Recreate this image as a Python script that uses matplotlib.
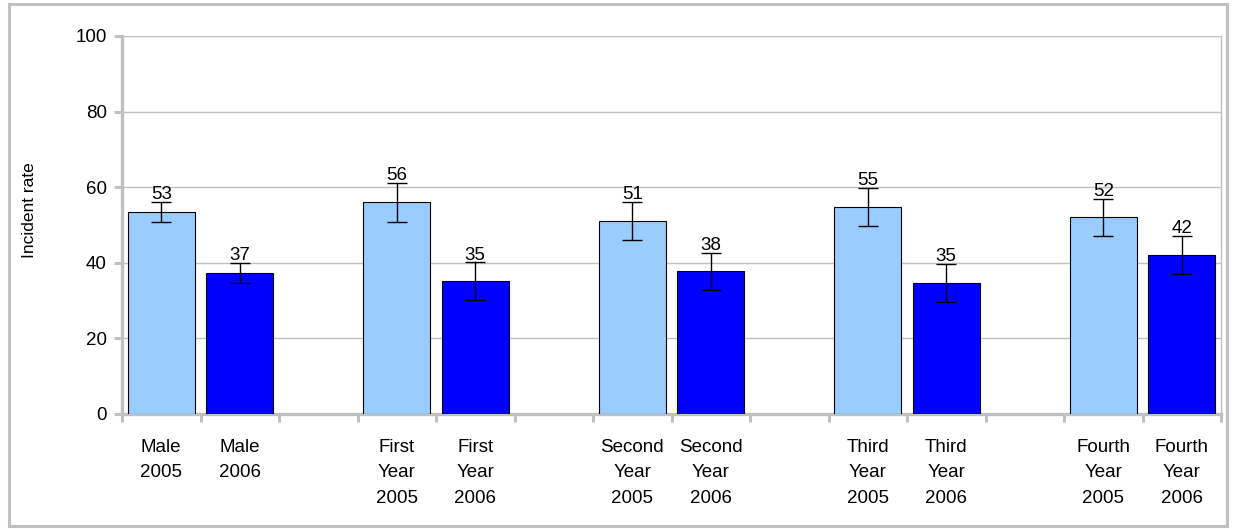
import matplotlib
matplotlib.use("Agg")
import matplotlib.pyplot as plt
from matplotlib.patches import Rectangle
from matplotlib.ticker import FixedLocator
import numpy as np

plt.rcParams['font.family'] = ['Liberation Sans', 'DejaVu Sans']

categories = ["Male\n2005", "Male\n2006", "",
              "First\nYear\n2005", "First\nYear\n2006", "",
              "Second\nYear\n2005", "Second\nYear\n2006", "",
              "Third\nYear\n2005", "Third\nYear\n2006", "",
              "Fourth\nYear\n2005", "Fourth\nYear\n2006"]
rates = [53.4, 37.3, None, 56.0, 35.1, None, 51.0, 37.7, None, 54.8, 34.6, None, 52.0, 42.1]
errors = [2.7, 2.6, None, 5.2, 5.0, None, 5.1, 4.9, None, 5.1, 5.1, None, 4.9, 5.1]
years = ["2005", "2006", None] * 4 + ["2005", "2006"]
y_ticks = [0, 20, 40, 60, 80, 100]
y_label = "Incident rate"

color_map = {"2005": "#99CCFF", "2006": "#0000FF"}
GRAY = "#C0C0C0"
FS = 13.5

W, H, DPI = 1238, 529, 100
fig = plt.figure(figsize=(W / DPI, H / DPI), dpi=DPI)
ax = fig.add_axes([122 / W, 1 - 414 / H, (1221 - 122) / W, (414 - 36) / H])

n = len(categories)
x = np.arange(n)
for i in range(n):
    if rates[i] is None:
        continue
    ax.bar(x[i], rates[i], width=0.85, color=color_map[years[i]],
           edgecolor="black", linewidth=0.8, zorder=3)
    ax.errorbar(x[i], rates[i], yerr=errors[i], fmt="none", ecolor="black",
                elinewidth=1.0, capsize=7, capthick=1.0, zorder=4)
    ax.annotate(f"{rates[i]:.0f}", (x[i], rates[i] + errors[i]),
                xytext=(0, 2), textcoords="offset points",
                ha="center", va="baseline", fontsize=FS, zorder=5)

ax.set_xlim(-0.5, n - 0.5)
ax.set_ylim(0, 100)
ax.set_yticks(y_ticks)
ax.set_yticklabels([str(t) for t in y_ticks], fontsize=FS)
ax.yaxis.grid(True, color=GRAY, linewidth=1.0, zorder=0)
ax.set_axisbelow(True)

ax.set_xticks(x)
ax.set_xticklabels(categories, fontsize=FS, linespacing=1.65)
ax.xaxis.set_minor_locator(FixedLocator(np.arange(n + 1) - 0.5))
ax.tick_params(axis="x", which="major", length=0, pad=18)
ax.tick_params(axis="x", which="minor", length=6, width=2.2, color=GRAY)
ax.tick_params(axis="y", length=6, width=2.2, color=GRAY, pad=5)

for side in ["left", "bottom"]:
    ax.spines[side].set_color(GRAY)
    ax.spines[side].set_linewidth(2.4)
ax.spines["top"].set_visible(False)
ax.spines["right"].set_color(GRAY)
ax.spines["right"].set_linewidth(1.0)

fig.text(29 / W, 1 - 210 / H, y_label, rotation=90, ha="center", va="center", fontsize=12.5)

fig.patches.append(Rectangle((9 / W, 1 - 526 / H), (1227 - 9) / W, (526 - 4) / H,
                             transform=fig.transFigure, fill=False,
                             edgecolor=GRAY, linewidth=2.2))

fig.savefig("out.png", dpi=DPI)
